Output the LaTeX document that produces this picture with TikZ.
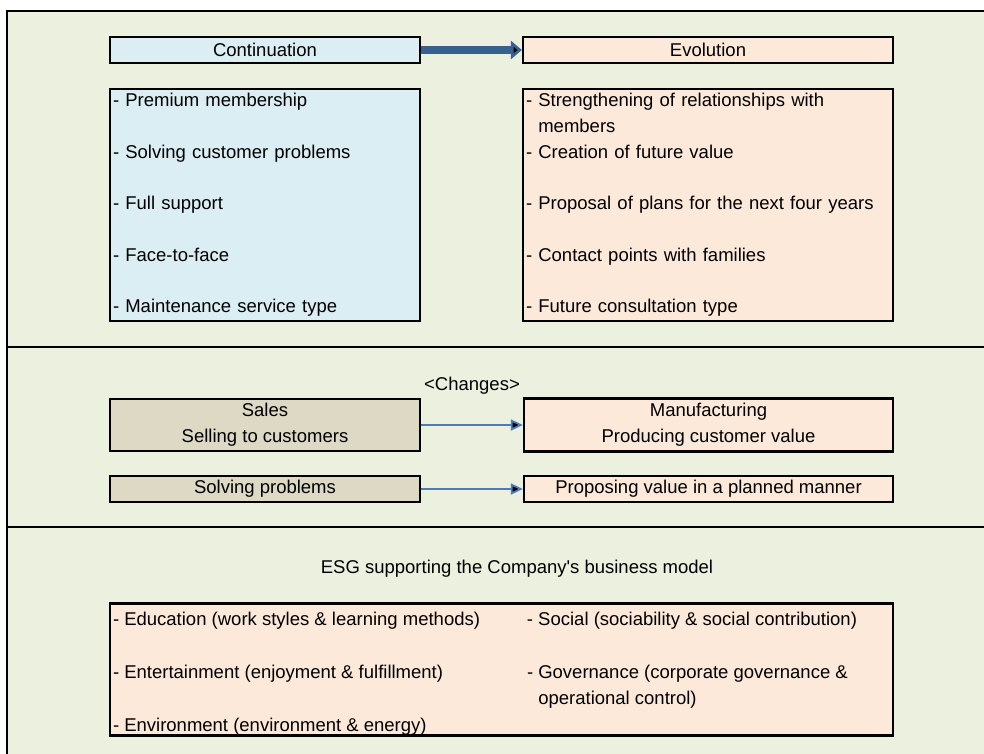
\documentclass[tikz,border=0pt]{standalone}
\usepackage{fontspec}
\setmainfont{Liberation Sans}
\usepackage{tikz}
\usetikzlibrary{arrows.meta}
\definecolor{panelbg}{HTML}{EBF1DE}
\definecolor{boxblue}{HTML}{DAEEF3}
\definecolor{boxpeach}{HTML}{FDE9D9}
\definecolor{boxtan}{HTML}{DDD9C4}
\definecolor{arrowdark}{HTML}{3A6090}
\definecolor{arrowblue}{HTML}{4A7EBB}
\newcommand{\listskip}[0] {25.8pt}
\newcommand{\straightquote}[0] {{\addfontfeature{Ligatures=TeXOff}'}}

\tikzset{
    every node/.style={font=\fontsize{18.5}{25.8}\selectfont},
    box/.style={shape=rectangle,draw=black,line width=2.3pt,inner sep=0pt,minimum height=26pt},
    listbox/.style={box,inner xsep=3pt,align=left},
    bigarrow/.style={draw=arrowdark,line width=8.5pt,-{Triangle[length=11pt,width=18pt]}},
    thinarrow/.style={draw=arrowblue,line width=1.8pt,-{Triangle[length=12pt,width=11pt]}}
}

\begin{document}
\begin{tikzpicture}[x=1pt,y=-1pt]
        \useasboundingbox (0,0) rectangle (984,753);
        \clip (0,0) rectangle (984,753);
        \fill[panelbg] (7,11) rectangle (995,765);
        \draw[line width=2.6pt] (7,765) -- (7,11) -- (995,11);
        \draw[line width=2.6pt] (7,347) -- (995,347);
        \draw[line width=2.6pt] (7,527) -- (995,527);

        \node[box,fill=boxblue,minimum width=310pt] (cont) at (265,50) {Continuation};
        \node[box,fill=boxpeach,minimum width=370pt] (evo) at (708,50) {Evolution};
        \node[listbox,fill=boxblue,text width=304pt,minimum height=232pt] (contlist) at (265,205)
            {- Premium membership\\[\listskip]
             - Solving customer problems\\[\listskip]
             - Full support\\[\listskip]
             - Face-to-face\\[\listskip]
             - Maintenance service type};
        \node[listbox,fill=boxpeach,text width=364pt,minimum height=232pt] (evolist) at (708,205)
            {- Strengthening of relationships with\\
             \hphantom{- }members\\
             - Creation of future value\\[\listskip]
             - Proposal of plans for the next four years\\[\listskip]
             - Contact points with families\\[\listskip]
             - Future consultation type};

        \node (changes) at (472,386) {<Changes>};
        \node[box,fill=boxtan,minimum width=310pt,minimum height=52pt,align=center] (sales) at (265,425)
            {Sales\\Selling to customers};
        \node[box,fill=boxpeach,minimum width=369pt,minimum height=53pt,align=center] (manu) at (708.5,425)
            {Manufacturing\\Producing customer value};
        \node[box,fill=boxpeach,minimum width=369pt] (propose) at (708.5,489) {Proposing value in a planned manner};
        \node[box,fill=boxtan,minimum width=310pt] (solve) at (265,489) {Solving problems};

        \node (esgtitle) at (517,569) {ESG supporting the Company\straightquote s business model};
        \node[box,fill=boxpeach,inner xsep=3pt,minimum width=783pt,minimum height=129pt,
              font=\fontsize{18.5}{26.4}\selectfont] (esg) at (501.5,669.5)
            {\raisebox{-3.5pt}[\height][\depth]{\begin{tabular}{@{}p{414pt}@{}p{363pt}@{}}
             - Education (work styles \& learning methods) & - Social (sociability \& social contribution)\\
             & \\
             - Entertainment (enjoyment \& fulfillment) & - Governance (corporate governance \&\\
             & \hphantom{- }operational control)\\
             - Environment (environment \& energy) & \\
             \end{tabular}}};

        %arrows
        \path[bigarrow] (cont) edge (evo);
        \path[thinarrow] (sales) edge (manu);
        \path[thinarrow] (solve) edge (propose);
\end{tikzpicture}
\end{document}
